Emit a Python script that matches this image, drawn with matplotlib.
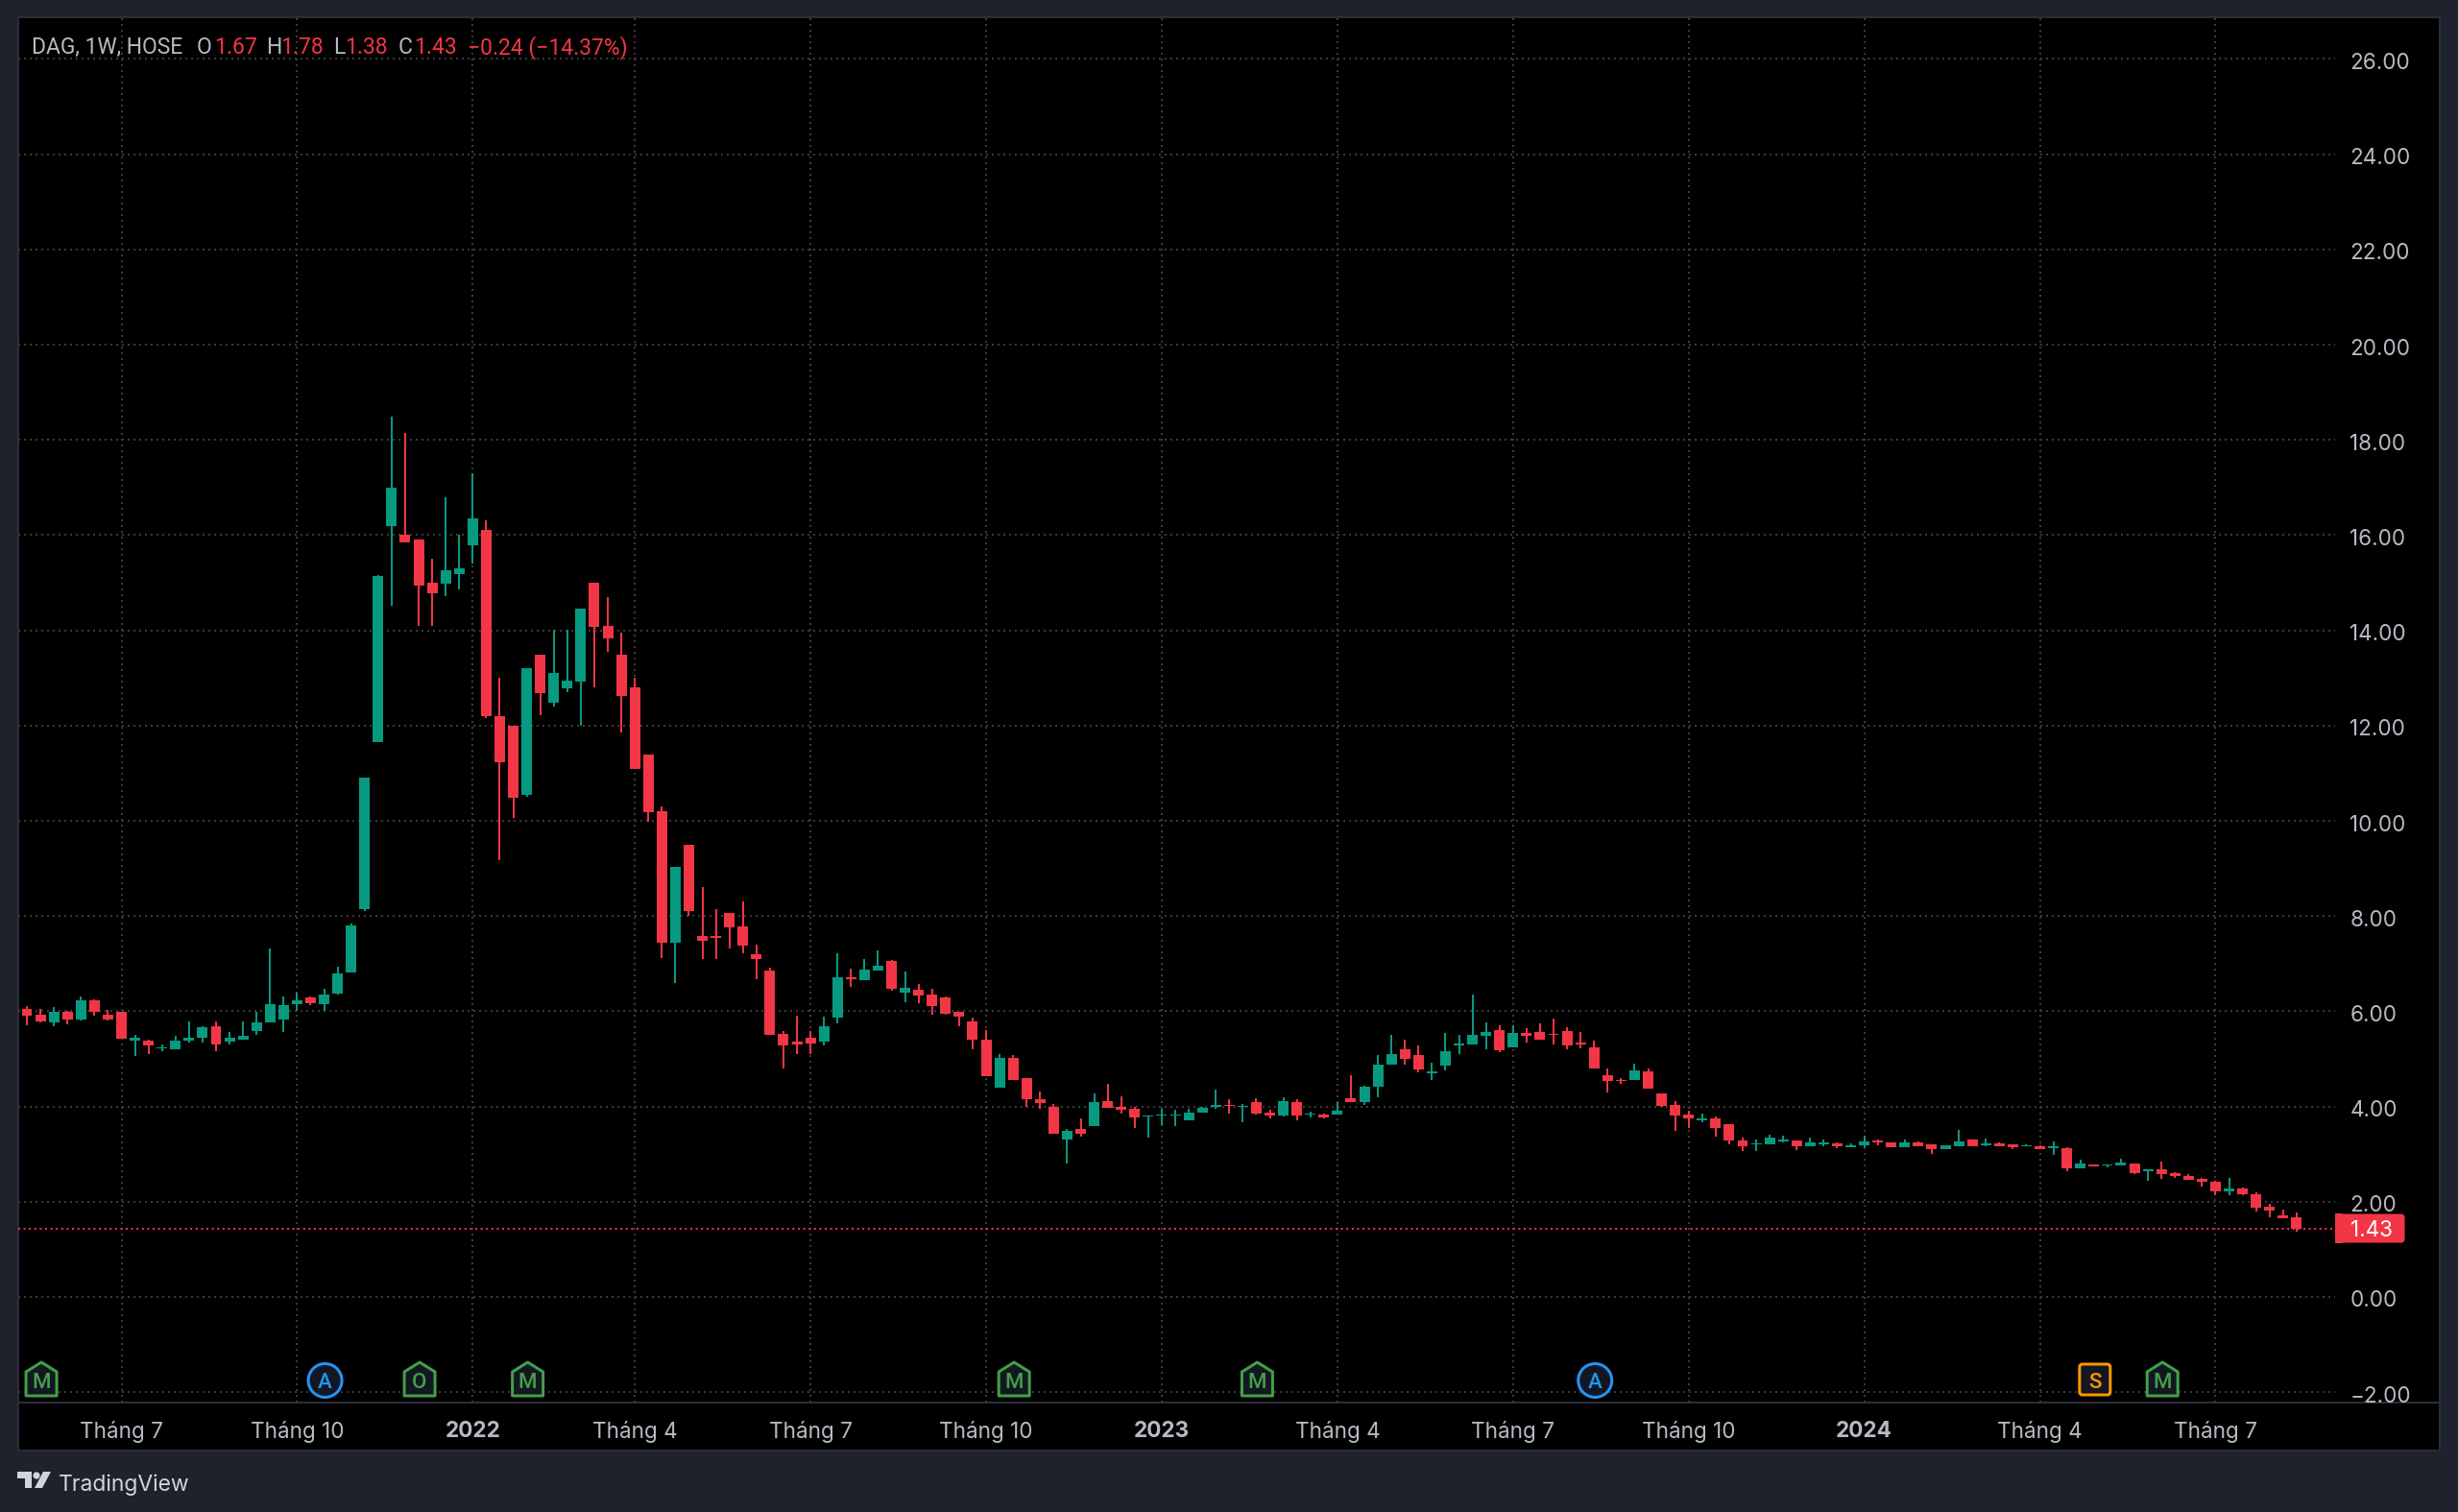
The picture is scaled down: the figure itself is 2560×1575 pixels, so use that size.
'''DAG weekly candles, TradingView dark look'''
import matplotlib
matplotlib.use('Agg')
import matplotlib.pyplot as plt
import numpy as np
from matplotlib.patches import Rectangle, Polygon, Circle, FancyBboxPatch
from matplotlib.transforms import ScaledTranslation

opens = [
    6.10,6.05,5.93,5.77,5.99,5.83,6.23,5.92,5.98,5.39,
    5.38,5.22,5.21,5.39,5.45,5.68,5.37,5.40,5.59,5.77,
    5.83,6.14,6.29,6.15,6.38,6.81,8.14,11.65,16.19,16.00,
    15.91,15.00,14.99,15.19,15.78,16.11,12.20,12.00,10.54,13.49,
    12.49,12.78,12.93,15.00,14.09,13.49,12.80,11.40,10.20,7.44,
    9.49,7.59,7.59,8.07,7.79,7.20,6.86,5.52,5.36,5.44,
    5.36,5.87,6.71,6.66,6.86,7.05,6.39,6.46,6.35,6.29,
    5.99,5.79,5.40,4.39,5.03,4.60,4.16,4.00,3.30,3.52,
    3.59,4.11,4.00,3.95,3.80,3.81,3.81,3.70,3.88,4.00,
    4.04,3.99,4.09,3.87,3.81,4.09,3.83,3.83,3.83,4.17,
    4.10,4.41,4.87,5.20,5.08,4.70,4.86,5.29,5.30,5.49,
    5.60,5.24,5.55,5.57,5.52,5.59,5.34,5.24,4.66,4.56,
    4.55,4.73,4.28,4.03,3.83,3.71,3.75,3.63,3.29,3.20,
    3.20,3.26,3.28,3.16,3.21,3.22,3.14,3.19,3.28,3.24,
    3.14,3.24,3.20,3.11,3.17,3.30,3.19,3.22,3.20,3.16,
    3.16,3.13,3.13,2.70,2.79,2.76,2.77,2.81,2.65,2.69,
    2.60,2.55,2.47,2.42,2.21,2.27,2.16,1.89,1.72,1.67,
]
highs = [
    6.12,6.11,6.05,6.09,6.00,6.31,6.25,6.03,5.98,5.50,
    5.41,5.31,5.49,5.78,5.69,5.78,5.56,5.78,5.99,7.31,
    6.31,6.40,6.31,6.48,6.93,7.84,10.90,15.16,18.49,18.15,
    15.91,15.50,16.80,16.00,17.30,16.31,13.00,12.00,13.20,13.49,
    14.02,14.02,14.45,15.00,14.70,13.95,13.00,11.40,10.30,9.04,
    9.49,8.60,8.14,8.07,8.30,7.39,6.91,5.59,5.91,5.59,
    5.89,7.22,6.89,7.10,7.28,7.08,6.84,6.57,6.47,6.31,
    5.99,5.87,5.61,5.10,5.08,4.60,4.32,4.06,3.53,3.74,
    4.28,4.47,4.21,4.00,3.82,3.95,3.93,3.95,4.00,4.36,
    4.16,4.05,4.17,3.94,4.19,4.16,3.89,3.86,4.10,4.66,
    4.43,5.08,5.50,5.40,5.28,4.92,5.54,5.50,6.35,5.77,
    5.70,5.70,5.65,5.74,5.85,5.66,5.57,5.38,4.80,4.60,
    4.90,4.80,4.28,4.11,3.91,3.85,3.79,3.63,3.34,3.30,
    3.41,3.39,3.28,3.34,3.30,3.25,3.23,3.39,3.30,3.24,
    3.30,3.26,3.20,3.18,3.50,3.31,3.33,3.24,3.20,3.21,
    3.18,3.26,3.15,2.88,2.79,2.79,2.91,2.81,2.68,2.85,
    2.62,2.59,2.49,2.44,2.49,2.29,2.19,1.95,1.83,1.78,
]
lows = [
    6.00,5.70,5.77,5.69,5.72,5.80,5.91,5.80,5.42,5.06,
    5.10,5.17,5.21,5.34,5.35,5.17,5.31,5.40,5.50,5.77,
    5.56,6.01,6.13,6.01,6.36,6.81,8.11,11.65,14.51,15.84,
    14.10,14.10,14.71,14.86,15.40,12.15,9.18,10.06,10.50,12.21,
    12.39,12.71,12.00,12.80,13.55,11.86,11.09,9.99,7.11,6.60,
    8.00,7.09,7.10,7.31,7.21,6.68,5.51,4.80,5.10,5.10,
    5.29,5.75,6.52,6.66,6.86,6.44,6.19,6.17,5.93,5.92,
    5.69,5.20,4.63,4.39,4.55,3.99,3.96,3.42,2.80,3.36,
    3.59,3.97,3.85,3.55,3.35,3.61,3.58,3.70,3.88,3.95,
    3.86,3.67,3.83,3.76,3.79,3.71,3.77,3.75,3.83,4.09,
    4.04,4.20,4.87,4.88,4.72,4.56,4.75,5.10,5.30,5.21,
    5.15,5.24,5.34,5.41,5.30,5.21,5.22,4.80,4.29,4.48,
    4.55,4.38,3.99,3.49,3.55,3.67,3.37,3.21,3.06,3.06,
    3.20,3.24,3.09,3.16,3.17,3.13,3.14,3.15,3.19,3.14,
    3.14,3.16,3.01,3.11,3.16,3.16,3.16,3.16,3.11,3.16,
    3.11,2.99,2.65,2.70,2.74,2.72,2.77,2.59,2.44,2.48,
    2.50,2.46,2.31,2.13,2.13,2.13,1.79,1.67,1.65,1.38,
]
closes = [
    6.03,5.91,5.78,5.99,5.83,6.23,5.99,5.83,5.42,5.45,
    5.29,5.24,5.38,5.45,5.67,5.30,5.45,5.49,5.77,6.14,
    6.12,6.24,6.17,6.36,6.79,7.80,10.90,15.14,17.00,15.84,
    14.94,14.78,15.26,15.30,16.35,12.19,11.24,10.49,13.20,12.69,
    13.10,12.94,14.45,14.08,13.83,12.63,11.09,10.19,7.44,9.04,
    8.10,7.47,7.55,7.77,7.37,7.10,5.51,5.29,5.31,5.33,
    5.69,6.71,6.67,6.88,6.95,6.48,6.49,6.33,6.11,5.95,
    5.88,5.40,4.63,5.03,4.55,4.15,4.07,3.42,3.49,3.42,
    4.10,3.97,3.94,3.77,3.82,3.84,3.84,3.87,3.98,4.03,
    4.01,4.01,3.86,3.81,4.12,3.82,3.85,3.77,3.92,4.09,
    4.41,4.88,5.11,4.99,4.77,4.73,5.16,5.32,5.50,5.57,
    5.19,5.55,5.49,5.41,5.50,5.28,5.31,4.80,4.53,4.54,
    4.76,4.38,4.02,3.82,3.74,3.76,3.54,3.28,3.17,3.22,
    3.34,3.30,3.16,3.24,3.24,3.16,3.18,3.26,3.25,3.14,
    3.24,3.16,3.11,3.18,3.26,3.16,3.22,3.16,3.14,3.19,
    3.11,3.16,2.70,2.80,2.74,2.79,2.83,2.60,2.68,2.59,
    2.54,2.46,2.41,2.21,2.27,2.15,1.87,1.81,1.65,1.43,
]

last_price = 1.43
price_ticks = [-2, 0, 2, 4, 6, 8, 10, 12, 14, 16, 18, 20, 22, 24, 26]
price_labels = ['\u22122.00', '0.00', '2.00', '4.00', '6.00', '8.00', '10.00', '12.00',
                '14.00', '16.00', '18.00', '20.00', '22.00', '24.00', '26.00']
time_ticks = [8, 21, 34, 46, 59, 72, 85, 98, 111, 124, 137, 150, 163]
time_labels = ['Tháng 7', 'Tháng 10', '2022', 'Tháng 4', 'Tháng 7', 'Tháng 10', '2023',
               'Tháng 4', 'Tháng 7', 'Tháng 10', '2024', 'Tháng 4', 'Tháng 7']
event_bars = [2, 23, 30, 38, 74, 92, 117, 154, 159]
event_letters = ['M', 'A', 'O', 'M', 'M', 'M', 'A', 'S', 'M']

W, H = 2560, 1575
RED = '#f23645'
GREEN = '#089981'
BG = '#1e222d'
TEXT = '#b8bac2'
GRID = '#3a3a3a'
BORDER = '#2a2e39'
PX = 0.72  # one pixel in points at dpi 100

plt.rcParams['font.family'] = ['Inter', 'DejaVu Sans']

fig = plt.figure(figsize=(W / 100, H / 100), dpi=100, facecolor=BG)

# black panels behind the chart
back = fig.add_axes([0, 0, 1, 1], zorder=0)
back.set_xlim(0, W)
back.set_ylim(H, 0)
back.axis('off')
back.add_patch(Rectangle((18.5, 17.5), 2522, 1493, facecolor='#000000', edgecolor=BORDER, lw=2 * PX))
back.plot([18.5, 2540.5], [1461, 1461], color=BORDER, lw=2 * PX)

# main pane, pixel box 19..2432 x 18..1461
L, R, T, B = 19, 2432, 18, 1461
ax = fig.add_axes([L / W, 1 - B / H, (R - L) / W, (B - T) / H], zorder=1)
ax.patch.set_alpha(0)
for s in ax.spines.values():
    s.set_visible(False)
ax.set_xlim(0.36, 171.85)
ax.set_ylim(-2.218, 26.876)

ax.grid(True, color=GRID, lw=2 * PX, linestyle=(0, (1, 2)), zorder=0)
ax.set_axisbelow(True)
ax.set_yticks(price_ticks)
ax.set_yticklabels(price_labels)
ax.set_xticks(time_ticks)
ax.set_xticklabels(time_labels)
ax.yaxis.tick_right()
ax.tick_params(axis='y', length=0, pad=15.5 * PX, labelsize=16.2, labelcolor=TEXT)
ax.tick_params(axis='x', length=0, pad=19 * PX, labelsize=16.2, labelcolor=TEXT)
for lab in ax.get_xticklabels():
    if lab.get_text().isdigit():
        lab.set_fontweight('bold')
# price labels sit a touch under their grid line
nudge = ScaledTranslation(0, -2 * PX / 72, fig.dpi_scale_trans)
for lab in ax.get_yticklabels():
    lab.set_transform(lab.get_transform() + nudge)

ax.axhline(last_price, color=RED, lw=2 * PX, linestyle=(0, (1, 1.8)), zorder=1)

# candles
xs = np.arange(len(opens))
op = np.array(opens)
hi = np.array(highs)
lo = np.array(lows)
cl = np.array(closes)
cols = [GREEN if c > o else RED for o, c in zip(op, cl)]
ax.vlines(xs, lo, hi, colors=cols, lw=2 * PX, zorder=2)
ax.bar(xs, np.abs(cl - op), bottom=np.minimum(op, cl), width=0.78, color=cols, zorder=3)

# front layer in pixel coordinates: header, last price tag, events, logo
top = fig.add_axes([0, 0, 1, 1], zorder=2)
top.set_xlim(0, W)
top.set_ylim(H, 0)
top.axis('off')

head = [(33, 'DAG, 1W, HOSE', TEXT), (205, 'O', TEXT), (223, '1.67', RED), (277, 'H', TEXT),
        (292, '1.78', RED), (347, 'L', TEXT), (359, '1.38', RED), (415, 'C', TEXT),
        (431, '1.43', RED), (487, '\u22120.24 (\u221214.37%)', RED)]
for hx, txt, c in head:
    top.text(hx, 47, txt, color=c, family='Roboto', fontsize=16.5, va='center_baseline', ha='left')

# last price tag
top.add_patch(FancyBboxPatch((2433, 1265), 71, 29, boxstyle='round,pad=0,rounding_size=3',
                             facecolor=RED, edgecolor=RED, lw=1 * PX))
top.add_patch(Rectangle((2432, 1264), 8, 31, facecolor=RED, edgecolor='none'))
top.text(2448, 1280, '1.43', color='white', fontsize=16.2, va='center_baseline', ha='left')

# event markers sit at the bar positions
DARK = '#131722'
for bar, letter in zip(event_bars, event_letters):
    ex = ax.transData.transform((bar, 0))[0] + 1
    if letter == 'A':
        col = '#2196f3'
        top.add_patch(Circle((ex, 1438), 17.5, facecolor=DARK, edgecolor=col, lw=3 * PX))
    elif letter == 'S':
        col = '#ff9800'
        top.add_patch(FancyBboxPatch((ex - 16, 1421), 32, 32, boxstyle='round,pad=0,rounding_size=3',
                                     facecolor=DARK, edgecolor=col, lw=3 * PX))
    else:
        col = '#43a047'
        top.add_patch(Polygon([(ex - 16, 1429), (ex, 1419), (ex + 16, 1429), (ex + 16, 1454), (ex - 16, 1454)],
                              closed=True, facecolor=DARK, edgecolor=col, lw=3 * PX, joinstyle='round'))
    top.text(ex, 1438, letter, color=col, family='Roboto', fontsize=16, fontweight='medium',
             ha='center', va='center_baseline')

# TradingView logo and name
LOGO = '#d1d4dc'
top.add_patch(Polygon([(18, 1533), (33, 1533), (33, 1550), (26, 1550), (26, 1540), (18, 1540)],
                      closed=True, facecolor=LOGO, edgecolor='none'))
top.add_patch(Circle((38, 1537), 3.6, facecolor=LOGO, edgecolor='none'))
top.add_patch(Polygon([(45, 1533), (53, 1533), (44, 1550), (36, 1550)],
                      closed=True, facecolor=LOGO, edgecolor='none'))
top.text(61, 1544, 'TradingView', color=LOGO, fontsize=16.5, va='center_baseline', ha='left')

fig.savefig('out.png', dpi=100, facecolor=BG)
